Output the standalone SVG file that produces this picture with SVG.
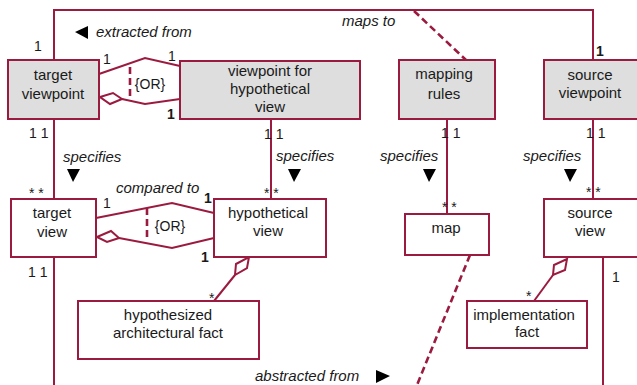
<svg xmlns="http://www.w3.org/2000/svg" width="637" height="385" viewBox="0 0 637 385">
<style>
.box{stroke:#9b1b40;stroke-width:2}
.vp{fill:#dedede}
.cls{fill:#ffffff}
.ln{fill:none;stroke:#9b1b40;stroke-width:2}
.dash{fill:none;stroke:#9b1b40;stroke-width:2.6;stroke-dasharray:7,4}
.dm{fill:#ffffff;stroke:#9b1b40;stroke-width:2}
text{font-family:"Liberation Sans",Arial,sans-serif;fill:#1a1a1a}
.t{font-size:15px;text-anchor:middle}
.lbl{font-size:15px;font-style:italic}
.m{font-size:14px}
.mb{font-size:14px;font-weight:bold}
.ar{fill:#000}
</style>
<rect width="637" height="385" fill="#ffffff"/>
<g id="connectors">
<path class="ln" d="M54,60 V10 H593 V60"/>
<path class="ln" d="M54,119 V199"/>
<path class="ln" d="M54,257 V385"/>
<path class="ln" d="M271,119 V199"/>
<path class="ln" d="M447,119 V214"/>
<path class="ln" d="M593,119 V199"/>
<path class="ln" d="M603,257 V385"/>
<path class="ln" d="M99,74 L145,58 L180,66"/>
<path class="ln" d="M122,99 L145,104 L180,99"/>
<path class="dm" d="M100,97 L113,93 L122,99 L110,104 Z"/>
<path class="dash" d="M130,67 V100"/>
<path class="ln" d="M96,218 L172,203 L214,213"/>
<path class="ln" d="M119,238 L172,248 L214,238"/>
<path class="dm" d="M97,237 L111,231 L119,238 L107,242 Z"/>
<path class="dash" d="M147,208 V241"/>
<path class="ln" d="M235,275 L214,301"/>
<path class="dm" d="M249,257 L247,268 L235,275 L236,264 Z"/>
<path class="ln" d="M553,275 L534,301"/>
<path class="dm" d="M567,259 L565,270 L553,275 L554,265 Z"/>
<path class="dash" d="M414,11 L466,60"/>
<path class="dash" d="M470,255 L417,385"/>
<path class="ar" d="M75,32 L88,26 L88,39 Z"/>
<path class="ar" d="M67,169 L80,169 L73,182 Z"/>
<path class="ar" d="M288,169 L301,169 L294,182 Z"/>
<path class="ar" d="M423,169 L436,169 L429,182 Z"/>
<path class="ar" d="M564,169 L577,169 L570,182 Z"/>
<path class="ar" d="M376,370 L376,383 L390,376 Z"/>
<text class="lbl" x="96" y="37">extracted from</text>
<text class="lbl" x="342" y="26">maps to</text>
<text class="lbl" x="116" y="193">compared to</text>
<text class="lbl" x="63" y="162">specifies</text>
<text class="lbl" x="276" y="161">specifies</text>
<text class="lbl" x="380" y="161">specifies</text>
<text class="lbl" x="523" y="161">specifies</text>
<text class="lbl" x="255" y="381">abstracted from</text>
<text class="t" x="150" y="89" style="font-size:14px">{OR}</text>
<text class="t" x="170" y="231" style="font-size:14px">{OR}</text>
<text class="m" x="34" y="51">1</text>
<text class="m" x="103" y="64">1</text>
<text class="m" x="168" y="61">1</text>
<text class="mb" x="167" y="119">1</text>
<text class="m" x="29" y="138">1 1</text>
<text class="m" x="264" y="139">1 1</text>
<text class="m" x="441" y="138">1 1</text>
<text class="m" x="586" y="138">1 1</text>
<text class="mb" x="596" y="56">1</text>
<text class="m" x="29" y="198">* *</text>
<text class="m" x="264" y="198">* *</text>
<text class="m" x="442" y="212">* *</text>
<text class="m" x="586" y="197">* *</text>
<text class="m" x="103" y="208">1</text>
<text class="mb" x="204" y="203">1</text>
<text class="mb" x="201" y="262">1</text>
<text class="m" x="28" y="277">1 1</text>
<text class="m" x="209" y="303">*</text>
<text class="m" x="526" y="301">*</text>
<text class="m" x="612" y="282">1</text>
</g>
<g id="target-viewpoint">
<rect class="box vp" x="8" y="60" width="91" height="59"/>
<text class="t" x="53" y="80">target</text>
<text class="t" x="53" y="99">viewpoint</text>
</g>
<g id="viewpoint-hypothetical">
<rect class="box vp" x="180" y="61" width="180" height="58"/>
<text class="t" x="270" y="76">viewpoint for</text>
<text class="t" x="270" y="94">hypothetical</text>
<text class="t" x="270" y="112">view</text>
</g>
<g id="mapping-rules">
<rect class="box vp" x="399" y="60" width="96" height="59"/>
<text class="t" x="444" y="79">mapping</text>
<text class="t" x="444" y="99">rules</text>
</g>
<g id="source-viewpoint">
<rect class="box vp" x="544" y="60" width="100" height="59"/>
<text class="t" x="590" y="80">source</text>
<text class="t" x="590" y="98">viewpoint</text>
</g>
<g id="target-view">
<rect class="box cls" x="11" y="199" width="85" height="58"/>
<text class="t" x="52" y="218">target</text>
<text class="t" x="52" y="237">view</text>
</g>
<g id="hypothetical-view">
<rect class="box cls" x="214" y="199" width="112" height="58"/>
<text class="t" x="268" y="218">hypothetical</text>
<text class="t" x="268" y="236">view</text>
</g>
<g id="map">
<rect class="box cls" x="405" y="214" width="84" height="41"/>
<text class="t" x="446" y="233">map</text>
</g>
<g id="source-view">
<rect class="box cls" x="544" y="199" width="100" height="58"/>
<text class="t" x="590" y="218">source</text>
<text class="t" x="590" y="236">view</text>
</g>
<g id="hypothesized-fact">
<rect class="box cls" x="78" y="301" width="181" height="58"/>
<text class="t" x="168" y="320">hypothesized</text>
<text class="t" x="168" y="338">architectural fact</text>
</g>
<g id="implementation-fact">
<rect class="box cls" x="467" y="301" width="120" height="47"/>
<text class="t" x="524" y="320">implementation</text>
<text class="t" x="527" y="337">fact</text>
</g>
</svg>
